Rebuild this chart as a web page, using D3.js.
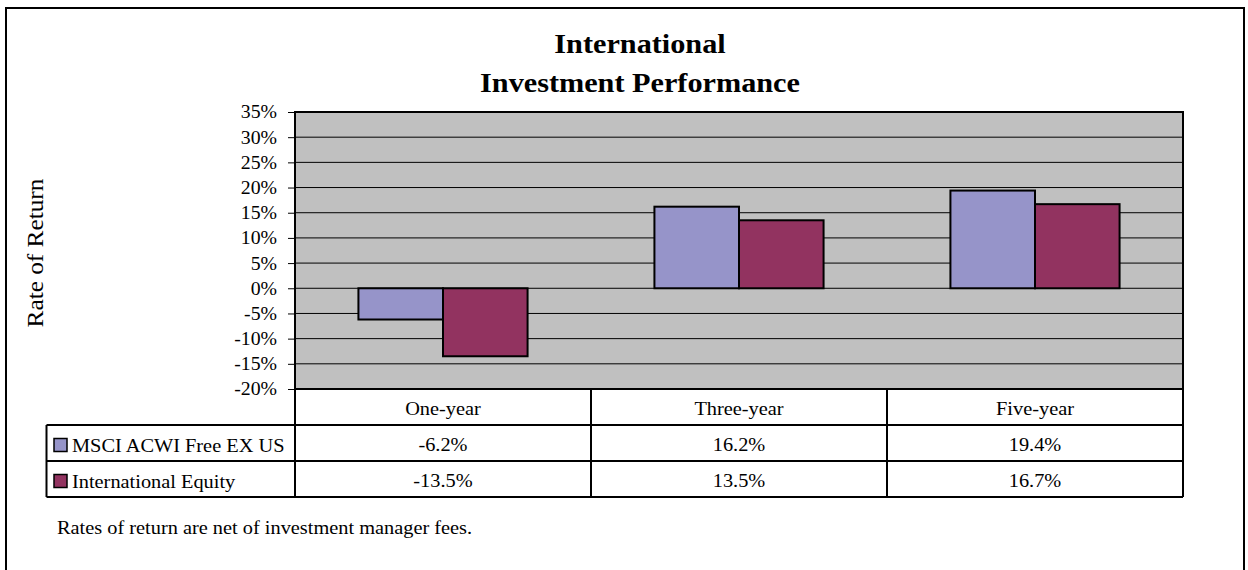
<!DOCTYPE html>
<html>
<head>
<meta charset="utf-8">
<script src="https://cdn.jsdelivr.net/npm/d3@7/dist/d3.min.js"></script>
<style>
  html, body { margin: 0; padding: 0; background: #fff; }
  svg { display: block; }
  text { font-family: "Liberation Serif", "Times New Roman", serif; fill: #000; }
</style>
</head>
<body>
<div id="chart"></div>
<script>
// datos del gráfico
const categories = ['One-year', 'Three-year', 'Five-year'];
const seriesNames = ['MSCI ACWI Free EX US', 'International Equity'];
const msciValues = [-6.2, 16.2, 19.4];
const intlValues = [-13.5, 13.5, 16.7];
const yTicks = [-20, -15, -10, -5, 0, 5, 10, 15, 20, 25, 30, 35];
const seriesColors = ['#9694C9', '#923360'];

const width = 1248;
const height = 570;

// área de la gráfica
const plot = { left: 295, right: 1183, top: 112, bottom: 389 };
const rowH = 36;
const tableLeft = 46.5;
const sx = 1.1; // el texto original sale un poco estirado a lo ancho

const svg = d3.select('#chart')
    .append('svg')
    .attr('width', width)
    .attr('height', height);

// marco exterior
svg.append('rect')
    .attr('x', 6)
    .attr('y', 8)
    .attr('width', 1238)
    .attr('height', 580)
    .attr('fill', '#fff')
    .attr('stroke', '#000')
    .attr('stroke-width', 2);

function label(x, y, txt, size, anchor, extra) {
    return svg.append('text')
        .attr('transform', `translate(${x},${y}) ${extra || ''} scale(${sx},1)`)
        .attr('text-anchor', anchor)
        .style('font-size', size + 'px')
        .text(txt);
}

// título
label(640, 53, 'International', 27.5, 'middle').style('font-weight', 'bold');
label(640, 92, 'Investment Performance', 27.5, 'middle').style('font-weight', 'bold');

// eje Y (título)
label(43, 253, 'Rate of Return', 23, 'middle', 'rotate(-90)');

const x = d3.scaleBand()
    .domain(categories)
    .range([plot.left, plot.right]);

const xInner = d3.scaleBand()
    .domain(seriesNames)
    .range([0, x.bandwidth()])
    .paddingOuter(0.75);

const y = d3.scaleLinear()
    .domain([-20, 35])
    .range([plot.bottom, plot.top]);

// fondo gris
svg.append('rect')
    .attr('x', plot.left)
    .attr('y', plot.top)
    .attr('width', plot.right - plot.left)
    .attr('height', plot.bottom - plot.top)
    .attr('fill', '#C0C0C0');

// líneas de la cuadrícula
svg.append('g')
    .selectAll('line')
    .data(yTicks)
    .join('line')
    .attr('x1', plot.left)
    .attr('x2', plot.right)
    .attr('y1', d => y(d))
    .attr('y2', d => y(d))
    .attr('stroke', '#000')
    .attr('stroke-width', 1);

// eje Y con marcas
const yAxis = svg.append('g')
    .attr('transform', `translate(${plot.left},0)`)
    .call(d3.axisLeft(y).tickValues(yTicks).tickFormat(d => d + '%').tickSize(7));

yAxis.select('.domain').remove();
yAxis.selectAll('line').attr('stroke', '#000').attr('stroke-width', 1);
yAxis.selectAll('text')
    .attr('x', null)
    .attr('dy', '0.33em')
    .attr('transform', `translate(-18,0) scale(${sx},1)`)
    .attr('text-anchor', 'end')
    .style('font-size', '18px')
    .style('font-family', '"Liberation Serif", "Times New Roman", serif')
    .attr('fill', '#000');

// barras
const series = [msciValues, intlValues];
series.forEach((values, s) => {
    svg.append('g')
        .selectAll('rect')
        .data(values)
        .join('rect')
        .attr('x', (d, i) => x(categories[i]) + xInner(seriesNames[s]))
        .attr('y', d => y(Math.max(0, d)))
        .attr('width', xInner.bandwidth())
        .attr('height', d => Math.abs(y(d) - y(0)))
        .attr('fill', seriesColors[s])
        .attr('stroke', '#000')
        .attr('stroke-width', 2);
});

// borde del área de la gráfica
svg.append('rect')
    .attr('x', plot.left)
    .attr('y', plot.top)
    .attr('width', plot.right - plot.left)
    .attr('height', plot.bottom - plot.top)
    .attr('fill', 'none')
    .attr('stroke', '#000')
    .attr('stroke-width', 2);

// tabla de datos
const row1 = plot.bottom + rowH;     // inicio fila serie 1
const row2 = row1 + rowH;
const row3 = row2 + rowH;
const tbl = svg.append('g').attr('stroke', '#000').attr('stroke-width', 2);

[row1, row2, row3].forEach(yy => {
    tbl.append('line')
        .attr('x1', tableLeft).attr('x2', plot.right)
        .attr('y1', yy).attr('y2', yy);
});
tbl.append('line')
    .attr('x1', tableLeft).attr('x2', tableLeft)
    .attr('y1', row1).attr('y2', row3);

const colEdges = categories.map(c => x(c)).concat([plot.right]);
colEdges.forEach(xx => {
    tbl.append('line')
        .attr('x1', xx).attr('x2', xx)
        .attr('y1', plot.bottom).attr('y2', row3);
});

// etiquetas de categoría
categories.forEach(c => {
    label(x(c) + x.bandwidth() / 2, plot.bottom + 26, c, 18.5, 'middle');
});

// valores y leyenda
series.forEach((values, s) => {
    const top = row1 + s * rowH;
    values.forEach((v, i) => {
        label(x(categories[i]) + x.bandwidth() / 2, top + 26, v.toFixed(1) + '%', 18.5, 'middle');
    });
    svg.append('rect')
        .attr('x', 54)
        .attr('y', top + 13.5)
        .attr('width', 13)
        .attr('height', 13)
        .attr('fill', seriesColors[s])
        .attr('stroke', '#000')
        .attr('stroke-width', 1.5);
    label(72, top + 26.5, seriesNames[s], 18.5, 'start');
});

// nota al pie
label(57, 534, 'Rates of return are net of investment manager fees.', 18.5, 'start');
</script>
</body>
</html>
